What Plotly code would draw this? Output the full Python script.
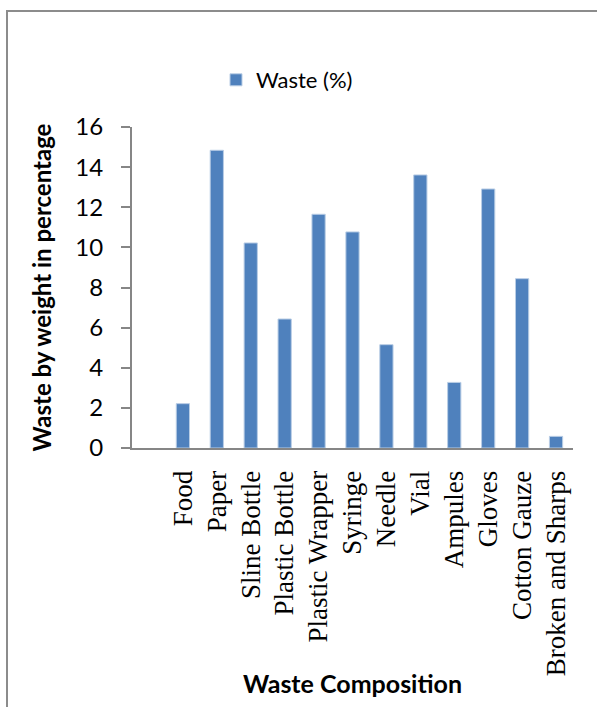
import plotly.graph_objects as go

# Waste composition by weight (%)
categories = ["Food", "Paper", "Sline Bottle", "Plastic Bottle", "Plastic Wrapper",
              "Syringe", "Needle", "Vial", "Ampules", "Gloves", "Cotton Gauze",
              "Broken and Sharps"]
waste_pct = [2.21, 14.84, 10.22, 6.43, 11.65, 10.77, 5.15, 13.61, 3.27, 12.91, 8.44, 0.58]
y_ticks = [0, 2, 4, 6, 8, 10, 12, 14, 16]

W, H = 597, 707
L, R, T, B = 132, 24, 127, 259
pw, ph = W - L - R, H - T - B

def px_x(x):
    return (x - L) / pw

def px_y(y):
    return (H - B - y) / ph

fig = go.Figure()
fig.add_trace(go.Bar(
    x=categories, y=waste_pct, name="Waste (%)",
    marker=dict(color="#4F81BD", line=dict(color="#B9CDE5", width=1)),
))

fig.update_layout(
    width=W, height=H,
    margin=dict(l=L, r=R, t=T, b=B, autoexpand=False),
    paper_bgcolor="white", plot_bgcolor="white",
    bargap=0.61,
    font=dict(family="Lato", color="black"),
    showlegend=True,
    legend=dict(orientation="h", x=px_x(216), y=px_y(59), xanchor="left", yanchor="top",
                font=dict(family="Lato", size=22, color="black"),
                bgcolor="rgba(0,0,0,0)", borderwidth=0),
    xaxis=dict(
        type="category", range=[-1.5, len(categories) - 0.5],
        showline=True, linecolor="#868686", linewidth=2,
        ticks="", tickangle=-90, ticklabelstandoff=10,
        tickfont=dict(family="Liberation Serif", size=27, color="black"),
        showgrid=False, zeroline=False,
        title=dict(text="<b>Waste Composition</b>", standoff=0,
                   font=dict(family="Lato", size=25, color="black")),
        automargin=False,
    ),
    yaxis=dict(
        range=[0, 16], tickvals=y_ticks,
        showline=True, linecolor="#868686", linewidth=2,
        ticks="outside", ticklen=9, tickcolor="#868686", tickwidth=2,
        ticklabelstandoff=13,
        tickfont=dict(family="Lato", size=24, color="black"),
        showgrid=False, zeroline=False,
        title=dict(text="<b>Waste by weight in percentage</b>", standoff=17,
                   font=dict(family="Lato", size=24, color="black")),
        automargin=False,
    ),
    shapes=[dict(type="path", xref="paper", yref="paper",
                 path=f"M {px_x(7)} {px_y(710)} L {px_x(7)} {px_y(11)} L {px_x(600)} {px_y(11)}",
                 line=dict(color="#8C8C8C", width=2))],
)

fig.write_html("out.html")
